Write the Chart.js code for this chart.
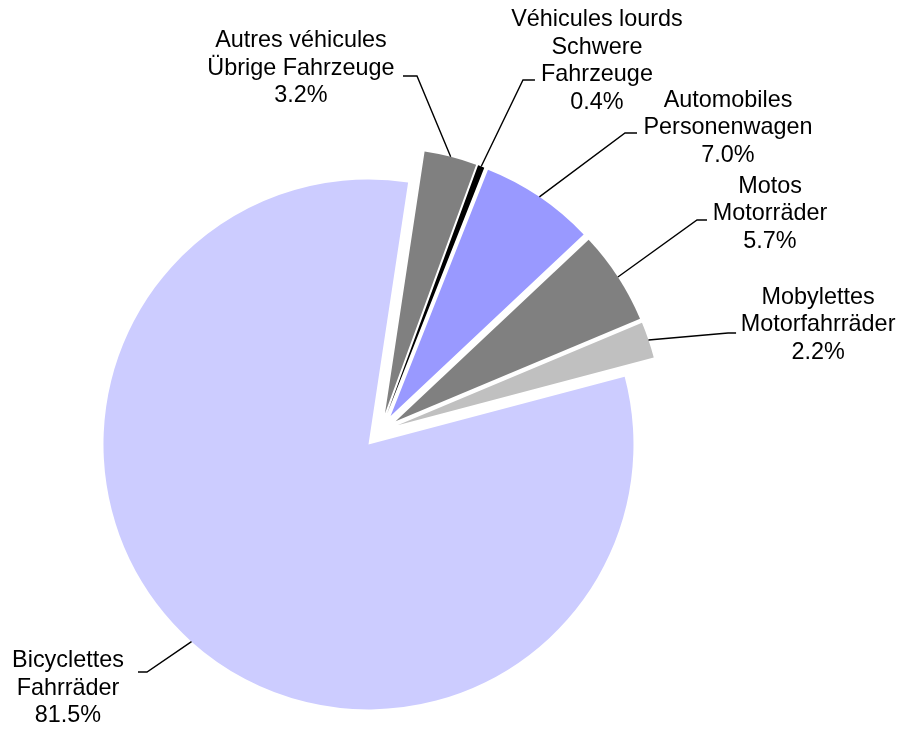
<!DOCTYPE html>
<html><head><meta charset="utf-8">
<script src="https://cdn.jsdelivr.net/npm/chart.js@4"></script>
<style>html,body{margin:0;padding:0;background:#fff}#wrap{width:902px;height:733px;position:relative}</style>
</head><body><div id="wrap"><canvas id="c"></canvas></div>
<script>
// ---- data ----
const categories = [
  'Autres véhicules\nÜbrige Fahrzeuge',
  'Véhicules lourds\nSchwere\nFahrzeuge',
  'Automobiles\nPersonenwagen',
  'Motos\nMotorräder',
  'Mobylettes\nMotorfahrräder',
  'Bicyclettes\nFahrräder'
];
const shares = [3.2, 0.4, 7.0, 5.7, 2.2, 81.5];
const sliceColors = ['#808080', '#000000', '#9999FF', '#808080', '#C0C0C0', '#CCCCFF'];

// ---- label layout (elbow offset from slice edge, tail length, text centre offset from tail end) ----
const labelLayout = [
  {ex: -33.7, ey: -80.8, h: -14, tx: -102, ty: -7.5},
  {ex: 41.8,  ey: -86.5, h: 12,  tx: 62,   ty: -19},
  {ex: 85.6,  ey: -63.8, h: 12,  tx: 91,   ty: -5},
  {ex: 79.1,  ey: -57,   h: 10,  tx: 63,   ty: -6},
  {ex: 79.6,  ey: -7,    h: 8,   tx: 82,   ty: -8},
  {ex: -44.5, ey: 30.4,  h: -9,  tx: -70,  ty: 16.5}
];
const EXPLODE = 18;
const FONT = '23.4px "Liberation Sans", Arial, sans-serif';
const LINE_H = 27.5;

const explodePlugin = {
  id: 'explode',
  afterDatasetUpdate(chart, args) {
    args.meta.data.forEach(arc => {
      const mid = (arc.startAngle + arc.endAngle) / 2;
      arc.x += Math.cos(mid) * EXPLODE;
      arc.y += Math.sin(mid) * EXPLODE;
    });
  }
};

const labelPlugin = {
  id: 'pieLabels',
  afterDatasetsDraw(chart) {
    const ctx = chart.ctx;
    const meta = chart.getDatasetMeta(0);
    const data = chart.data.datasets[0].data;
    const total = data.reduce((a, b) => a + b, 0);
    ctx.save();
    ctx.font = FONT;
    ctx.fillStyle = '#000';
    ctx.strokeStyle = '#000';
    ctx.lineWidth = 1.4;
    ctx.textAlign = 'center';
    ctx.textBaseline = 'middle';
    meta.data.forEach((arc, i) => {
      const mid = (arc.startAngle + arc.endAngle) / 2;
      const sx = arc.x + Math.cos(mid) * arc.outerRadius;
      const sy = arc.y + Math.sin(mid) * arc.outerRadius;
      const L = labelLayout[i];
      const ex = sx + L.ex, ey = sy + L.ey;
      const hx = ex + L.h;
      ctx.beginPath();
      ctx.moveTo(sx, sy);
      ctx.lineTo(ex, ey);
      ctx.lineTo(hx, ey);
      ctx.stroke();
      const lines = chart.data.labels[i].split('\n');
      lines.push((data[i] / total * 100).toFixed(1) + '%');
      const cx = hx + L.tx, cy = ey + L.ty;
      lines.forEach((t, k) => {
        ctx.fillText(t, cx, cy + (k - (lines.length - 1) / 2) * LINE_H);
      });
    });
    ctx.restore();
  }
};

new Chart(document.getElementById('c'), {
  type: 'pie',
  data: {
    labels: categories,
    datasets: [{
      data: shares,
      backgroundColor: sliceColors,
      borderWidth: 0,
      hoverOffset: 0
    }]
  },
  options: {
    responsive: true,
    maintainAspectRatio: false,
    animation: false,
    rotation: 8.6,
    radius: 265,
    layout: {padding: {left: 0, right: 141, top: 129, bottom: 0}},
    events: [],
    plugins: {
      legend: {display: false},
      tooltip: {enabled: false},
      title: {display: false}
    }
  },
  plugins: [explodePlugin, labelPlugin]
});
</script>
</body></html>
